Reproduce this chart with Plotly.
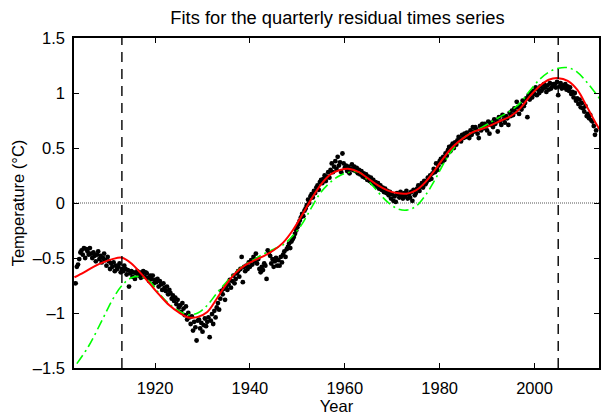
import numpy as np
import plotly.graph_objects as go

# Quarterly residual temperature anomalies (deg C), starting 1903 Q2
first_quarter_year = 1903.25
temp_quarterly = [
    -0.73, -0.58, -0.56, -0.51,  -0.45, -0.43, -0.47, -0.41,   # 1903-1904
    -0.50, -0.42, -0.44, -0.47,  -0.41, -0.46, -0.50, -0.45,   # 1905-1906
    -0.48, -0.53, -0.47, -0.44,  -0.51, -0.48, -0.54, -0.50,   # 1907-1908
    -0.46, -0.52, -0.57, -0.49,  -0.53, -0.60, -0.55, -0.58,   # 1909-1910
    -0.54, -0.62, -0.57, -0.60,  -0.58, -0.55, -0.63, -0.60,   # 1911-1912
    -0.62, -0.57, -0.60, -0.65,  -0.61, -0.76, -0.64, -0.62,   # 1913-1914
    -0.67, -0.63, -0.69, -0.64,  -0.62, -0.66, -0.63, -0.68,   # 1915-1916
    -0.65, -0.62, -0.67, -0.63,  -0.64, -0.68, -0.71, -0.66,   # 1917-1918
    -0.69, -0.66, -0.73, -0.70,  -0.72, -0.69, -0.76, -0.71,   # 1919-1920
    -0.74, -0.79, -0.73, -0.77,  -0.80, -0.76, -0.83, -0.79,   # 1921-1922
    -0.82, -0.87, -0.84, -0.89,  -0.86, -0.92, -0.88, -0.95,   # 1923-1924
    -0.93, -0.99, -0.91, -0.96,  -1.02, -0.94, -1.06, -1.00,   # 1925-1926
    -1.04, -1.10, -1.03, -1.16,  -1.08, -1.13, -1.25, -1.07,   # 1927-1928
    -1.06, -1.14, -1.09, -1.17,  -1.11, -1.05, -1.12, -1.08,   # 1929-1930
    -1.04, -1.22, -1.07, -1.01,  -1.10, -0.98, -1.04, -0.95,   # 1931-1932
    -0.91, -0.97, -0.87, -0.80,  -0.83, -0.78, -0.88, -0.76,   # 1933-1934
    -0.79, -0.74, -0.70, -0.77,  -0.71, -0.66, -0.73, -0.69,   # 1935-1936
    -0.64, -0.62, -0.67, -0.60,  -0.49, -0.72, -0.58, -0.62,   # 1937-1938
    -0.57, -0.60, -0.54, -0.58,  -0.52, -0.56, -0.49, -0.53,   # 1939-1940
    -0.46, -0.55, -0.51, -0.60,  -0.63, -0.58, -0.61, -0.55,   # 1941-1942
    -0.57, -0.69, -0.43, -0.45,  -0.48, -0.55, -0.51, -0.58,   # 1943-1944
    -0.53, -0.50, -0.57, -0.52,  -0.57, -0.49, -0.54, -0.47,   # 1945-1946
    -0.44, -0.49, -0.42, -0.40,  -0.37, -0.41, -0.35, -0.33,   # 1947-1948
    -0.31, -0.28, -0.25, -0.22,  -0.19, -0.16, -0.13, -0.10,   # 1949-1950
    -0.12, -0.07, -0.05, -0.02,   0.03,  0.00,  0.06,  0.08,   # 1951-1952
     0.05,  0.11,  0.09,  0.14,   0.16,  0.12,  0.19,  0.21,   # 1953-1954
     0.18,  0.22,  0.25,  0.20,   0.24,  0.28,  0.23,  0.30,   # 1955-1956
     0.36,  0.28,  0.33,  0.38,   0.31,  0.42,  0.34,  0.37,   # 1957-1958
     0.28,  0.45,  0.36,  0.32,   0.34,  0.29,  0.33,  0.27,   # 1959-1960
     0.31,  0.35,  0.30,  0.33,   0.29,  0.32,  0.27,  0.30,   # 1961-1962
     0.26,  0.29,  0.24,  0.27,   0.23,  0.26,  0.21,  0.24,   # 1963-1964
     0.20,  0.23,  0.18,  0.21,   0.17,  0.19,  0.15,  0.18,   # 1965-1966
     0.13,  0.16,  0.12,  0.14,   0.10,  0.13,  0.09,  0.11,   # 1967-1968
     0.07,  0.10,  0.04,  0.08,   0.02,  0.06,  0.01,  0.09,   # 1969-1970
     0.08,  0.05,  0.10,  0.07,   0.04,  0.09,  0.06,  0.11,   # 1971-1972
     0.04,  0.08,  0.05,  0.10,   0.02,  0.12,  0.07,  0.09,   # 1973-1974
     0.13,  0.16,  0.11,  0.15,   0.18,  0.14,  0.20,  0.17,   # 1975-1976
     0.19,  0.23,  0.21,  0.25,   0.22,  0.27,  0.31,  0.28,   # 1977-1978
     0.36,  0.30,  0.34,  0.38,   0.40,  0.37,  0.42,  0.39,   # 1979-1980
     0.45,  0.43,  0.48,  0.51,   0.47,  0.52,  0.54,  0.50,   # 1981-1982
     0.55,  0.53,  0.57,  0.60,   0.58,  0.56,  0.62,  0.59,   # 1983-1984
     0.63,  0.60,  0.64,  0.61,   0.59,  0.66,  0.62,  0.69,   # 1985-1986
     0.65,  0.69,  0.67,  0.63,   0.59,  0.70,  0.66,  0.72,   # 1987-1988
     0.68,  0.72,  0.70,  0.66,   0.74,  0.63,  0.71,  0.73,   # 1989-1990
     0.69,  0.76,  0.72,  0.75,   0.65,  0.78,  0.74,  0.71,   # 1991-1992
     0.80,  0.76,  0.73,  0.79,   0.77,  0.71,  0.82,  0.79,   # 1993-1994
     0.84,  0.80,  0.86,  0.83,   0.92,  0.87,  0.81,  0.89,   # 1995-1996
     0.85,  0.93,  0.88,  0.91,   0.95,  0.78,  0.98,  0.94,   # 1997-1998
     1.00,  0.96,  1.02,  0.99,   1.05,  0.98,  1.03,  1.00,   # 1999-2000
     1.06,  1.02,  1.04,  1.08,   1.05,  1.01,  1.07,  1.03,   # 2001-2002
     1.09,  1.04,  1.06,  1.08,   1.08,  1.05,  1.10,  0.98,   # 2003-2004
     1.06,  1.09,  1.04,  1.07,   1.05,  1.08,  1.03,  1.06,   # 2005-2006
     1.02,  1.05,  0.99,  1.01,   0.96,  1.00,  0.93,  0.95,   # 2007-2008
     0.90,  0.94,  0.87,  0.91,   0.86,  0.83,  0.88,  0.79,   # 2009-2010
     0.81,  0.77,  0.80,  0.75,   0.74,  0.70,  0.62,  0.66,   # 2011-2012
]

# Smooth fit (red, solid)
fit_red_years = [1903, 1905, 1907, 1909, 1911, 1913, 1915, 1917, 1919, 1921,
                 1923, 1925, 1927, 1929, 1931, 1933, 1935, 1937, 1939, 1941,
                 1943, 1945, 1947, 1949, 1951, 1953, 1955, 1957, 1959, 1961,
                 1963, 1965, 1967, 1969, 1971, 1973, 1975, 1977, 1979, 1981,
                 1983, 1985, 1987, 1989, 1991, 1993, 1995, 1997, 1999, 2001,
                 2003, 2005, 2007, 2009, 2011, 2013, 2013.7]
fit_red = [-0.675, -0.63, -0.58, -0.54, -0.51, -0.497, -0.55, -0.64, -0.74, -0.84,
           -0.93, -0.995, -1.04, -1.035, -0.99, -0.87, -0.74, -0.635, -0.565, -0.52,
           -0.48, -0.43, -0.36, -0.25, -0.11, 0.04, 0.17, 0.26, 0.30, 0.31,
           0.28, 0.22, 0.16, 0.115, 0.09, 0.085, 0.115, 0.19, 0.30, 0.42,
           0.52, 0.59, 0.645, 0.675, 0.71, 0.75, 0.79, 0.86, 0.97, 1.06,
           1.12, 1.135, 1.11, 1.03, 0.88, 0.72, 0.67]

# Alternative fit (green, dash-dot)
fit_green_years = [1903.5, 1906, 1909, 1911, 1913, 1915, 1917, 1919, 1921,
                   1923, 1925, 1927, 1929, 1931, 1933, 1935, 1937, 1939, 1941,
                   1943, 1945, 1947, 1949, 1951, 1953, 1955, 1957, 1959, 1961,
                   1963, 1965, 1967, 1969, 1971, 1973, 1975, 1977, 1979, 1981,
                   1983, 1985, 1987, 1989, 1991, 1993, 1995, 1997, 1999, 2001,
                   2003, 2005, 2007, 2009, 2011, 2013, 2013.7]
fit_green = [-1.46, -1.30, -1.05, -0.88, -0.75, -0.68, -0.67, -0.72, -0.83,
             -0.92, -0.98, -1.015, -1.00, -0.93, -0.82, -0.72, -0.63, -0.56, -0.51,
             -0.46, -0.42, -0.38, -0.30, -0.19, -0.04, 0.10, 0.19, 0.25, 0.28,
             0.28, 0.20, 0.10, 0.01, -0.05, -0.065, -0.03, 0.07, 0.21, 0.37,
             0.50, 0.59, 0.645, 0.69, 0.74, 0.79, 0.84, 0.91, 1.02, 1.12,
             1.19, 1.225, 1.23, 1.19, 1.10, 0.99, 0.95]

event_years = [1913, 2005]
x_tick_vals = [1920, 1940, 1960, 1980, 2000]
y_tick_vals = [-1.5, -1, -0.5, 0, 0.5, 1, 1.5]
y_tick_text = ["\u20131.5", "\u20131", "\u20130.5", "0", "0.5", "1", "1.5"]

quarter_time = first_quarter_year + np.arange(len(temp_quarterly)) * 0.25

font_family = "Liberation Sans, Arial, Helvetica, sans-serif"

fig = go.Figure()

fig.add_trace(go.Scatter(
    x=quarter_time, y=temp_quarterly, mode="markers",
    marker=dict(color="black", size=4.8, line=dict(width=0)),
    showlegend=False, hoverinfo="skip",
))
fig.add_trace(go.Scatter(
    x=fit_green_years, y=fit_green, mode="lines",
    line=dict(color="#00ff00", width=1.6, dash="10px,4px,2px,4px",
              shape="spline", smoothing=1.0),
    showlegend=False, hoverinfo="skip",
))
fig.add_trace(go.Scatter(
    x=fit_red_years, y=fit_red, mode="lines",
    line=dict(color="#ff0000", width=2, shape="spline", smoothing=1.0),
    showlegend=False, hoverinfo="skip",
))

# zero reference line
fig.add_shape(type="line", xref="paper", yref="y", x0=0, x1=1, y0=0, y1=0,
              line=dict(color="#555555", width=1, dash="1px,1px"), layer="below")

# event markers
for yr in event_years:
    fig.add_shape(type="line", xref="x", yref="paper", x0=yr, x1=yr, y0=0, y1=1,
                  line=dict(color="black", width=1.4, dash="10px,7px"))

axis_common = dict(
    showline=True, linecolor="black", linewidth=1.5, mirror="ticks",
    ticks="inside", ticklen=5, tickcolor="black", tickwidth=1,
    showgrid=False, zeroline=False,
    tickfont=dict(family=font_family, size=16.5, color="black"),
)

fig.update_xaxes(
    range=[1902.9, 2013.6], tickvals=x_tick_vals,
    title=dict(text="Year", font=dict(family=font_family, size=16.5, color="black"),
               standoff=5),
    ticklabelstandoff=4,
    **axis_common,
)
fig.update_yaxes(
    range=[-1.5, 1.5], tickvals=y_tick_vals, ticktext=y_tick_text,
    title=dict(text="Temperature (\u00b0C)",
               font=dict(family=font_family, size=16.5, color="black"), standoff=4),
    ticklabelstandoff=4,
    **axis_common,
)

fig.update_layout(
    width=601, height=417,
    margin=dict(l=74, r=0, t=38, b=49),
    paper_bgcolor="white", plot_bgcolor="white",
    title=dict(text="Fits for the quarterly residual times series",
               font=dict(family=font_family, size=18.3, color="black"),
               x=(74 + 601) / 2 / 601, xanchor="center", y=1 - 18 / 417, yanchor="middle"),
    showlegend=False,
)

fig.write_html("out.html")
